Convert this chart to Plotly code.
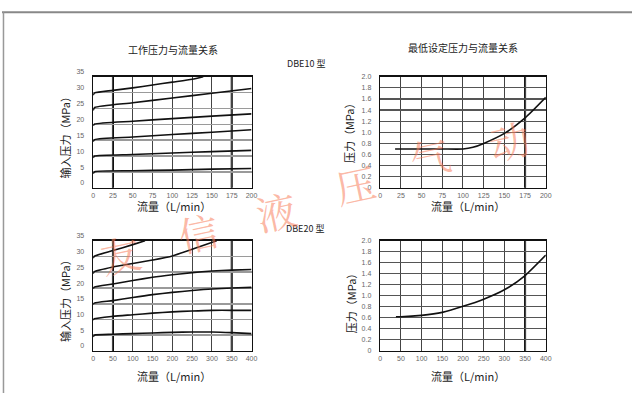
import plotly.graph_objects as go

W, H = 638, 396

# ---------------- data ----------------
# DBE10 working pressure vs flow (top-left)
tl_x_ticks = [0, 25, 50, 75, 100, 125, 150, 175, 200]
tl_y_ticks = [0, 5, 10, 15, 20, 25, 30, 35]
tl_a_x = [0, 2, 25, 50, 75, 100, 125, 139]
tl_a_y = [29.2, 29.9, 30.7, 31.5, 32.4, 33.3, 34.2, 35.0]
tl_b_x = [0, 2, 50, 100, 150, 200]
tl_b_y = [24.4, 25.3, 26.8, 28.3, 29.8, 31.3]
tl_c_x = [0, 2, 50, 100, 150, 200]
tl_c_y = [19.6, 20.1, 21.0, 21.8, 22.6, 23.3]
tl_d_x = [0, 2, 50, 100, 150, 200]
tl_d_y = [14.6, 15.2, 16.0, 16.8, 17.5, 18.3]
tl_e_x = [0, 2, 50, 100, 150, 200]
tl_e_y = [9.5, 10.0, 10.5, 11.0, 11.4, 11.8]
tl_f_x = [0, 2, 50, 100, 150, 200]
tl_f_y = [4.5, 5.1, 5.4, 5.6, 5.9, 6.1]

# DBE10 minimum setting pressure vs flow (top-right)
tr_x_ticks = [0, 25, 50, 75, 100, 125, 150, 175, 200]
tr_y_ticks = [0, 0.2, 0.4, 0.6, 0.8, 1.0, 1.2, 1.4, 1.6, 1.8, 2.0]
tr_y_text = ["0", "0.2", "0.4", "0.6", "0.8", "1.0", "1.2", "1.4", "1.6", "1.8", "2.0"]
tr_x = [18, 50, 75, 100, 112, 125, 150, 175, 200]
tr_y = [0.70, 0.70, 0.70, 0.70, 0.73, 0.80, 0.98, 1.26, 1.63]

# DBE20 working pressure vs flow (bottom-left)
bl_x_ticks = [0, 50, 100, 150, 200, 250, 300, 350, 400]
bl_y_ticks = [0, 5, 10, 15, 20, 25, 30, 35]
bl_a_x = [0, 3, 50, 100, 131]
bl_a_y = [29.5, 30.1, 31.9, 33.8, 35.0]
bl_b_x = [0, 3, 50, 100, 150, 200, 250, 312]
bl_b_y = [24.6, 25.2, 26.7, 27.8, 28.9, 30.2, 32.3, 35.0]
bl_flow = [0, 3, 50, 100, 150, 200, 250, 300, 350, 400]
bl_c_y = [19.8, 20.3, 21.3, 22.4, 23.4, 24.2, 24.9, 25.4, 25.7, 25.9]
bl_d_y = [14.8, 15.2, 16.0, 17.0, 17.9, 18.6, 19.2, 19.7, 20.0, 20.2]
bl_e_y = [9.8, 10.2, 11.0, 11.5, 12.0, 12.4, 12.7, 12.9, 12.9, 12.9]
bl_f_y = [4.5, 5.0, 5.3, 5.5, 5.7, 5.9, 6.0, 6.0, 5.8, 5.5]

# DBE20 minimum setting pressure vs flow (bottom-right)
br_x_ticks = [0, 50, 100, 150, 200, 250, 300, 350, 400]
br_x = [38, 50, 100, 150, 200, 250, 300, 350, 400]
br_y = [0.62, 0.62, 0.645, 0.70, 0.81, 0.94, 1.11, 1.37, 1.74]

# emphasised (heavier) grid lines
tl_emph = [25, 175]
tr_emph = [175]
bl_emph = [50, 350]
br_emph = [350]

# texts
title_left = "工作压力与流量关系"
title_right = "最低设定压力与流量关系"
label_10 = "DBE10 型"
label_20 = "DBE20 型"
x_title = "流量（L/min）"
y_title_left = "输入压力（MPa）"
y_title_right = "压力（MPa）"
watermark = ["友", "信", "液", "压", "气", "动"]

# ---------------- figure ----------------
def px(x):
    return x / W

def py(y):
    return 1 - y / H

fig = go.Figure()

def line(xs, ys, xa, ya, shape="spline"):
    fig.add_trace(go.Scatter(x=xs, y=ys, xaxis=xa, yaxis=ya, mode="lines",
                             line=dict(color="#111", width=1.6, shape=shape, smoothing=0.6),
                             hoverinfo="skip", showlegend=False))

for xs, ys in [(tl_a_x, tl_a_y), (tl_b_x, tl_b_y), (tl_c_x, tl_c_y),
               (tl_d_x, tl_d_y), (tl_e_x, tl_e_y), (tl_f_x, tl_f_y)]:
    line(xs, ys, "x", "y")
line(tr_x, tr_y, "x2", "y2")
for xs, ys in [(bl_a_x, bl_a_y), (bl_b_x, bl_b_y), (bl_flow, bl_c_y),
               (bl_flow, bl_d_y), (bl_flow, bl_e_y), (bl_flow, bl_f_y)]:
    line(xs, ys, "x3", "y3")
line(br_x, br_y, "x4", "y4")

tick_font = dict(family="Liberation Sans Narrow, Liberation Sans, Arial, sans-serif", size=7, color="#666")
axis_common = dict(showline=True, mirror=True, linecolor="#111", linewidth=1.5,
                   zeroline=False, showgrid=True, ticks="", tickfont=tick_font,
                   fixedrange=True)

dom_l = [px(92.3), px(252.7)]
dom_r = [px(383.0), px(550.7)]
dom_top = [py(185), py(70.7)]
dom_bot = [py(352.7), py(239.5)]

fig.update_layout(
    width=W, height=H, margin=dict(l=0, r=0, t=0, b=0),
    paper_bgcolor="white", plot_bgcolor="white", showlegend=False,
    xaxis=dict(axis_common, domain=dom_l, range=[0, 200], tickvals=tl_x_ticks,
               gridcolor="#444", gridwidth=1, anchor="y"),
    yaxis=dict(axis_common, domain=dom_top, range=[0, 35], tickvals=tl_y_ticks,
               gridcolor="#9a9a9a", gridwidth=1.6, anchor="x",
               ticklabelposition="outside top", ticklabelstandoff=6),
    xaxis2=dict(axis_common, domain=dom_r, range=[0, 200], tickvals=tr_x_ticks,
                gridcolor="#444", gridwidth=1, anchor="y2"),
    yaxis2=dict(axis_common, domain=dom_top, range=[0, 2.0], tickvals=tr_y_ticks,
                ticktext=tr_y_text, gridcolor="#555", gridwidth=1.2, anchor="x2",
                ticklabelstandoff=6),
    xaxis3=dict(axis_common, domain=dom_l, range=[0, 400], tickvals=bl_x_ticks,
                gridcolor="#444", gridwidth=1, anchor="y3"),
    yaxis3=dict(axis_common, domain=dom_bot, range=[0, 35], tickvals=bl_y_ticks,
                gridcolor="#9a9a9a", gridwidth=1.6, anchor="x3",
                ticklabelposition="outside top", ticklabelstandoff=6),
    xaxis4=dict(axis_common, domain=dom_r, range=[0, 400], tickvals=br_x_ticks,
                gridcolor="#444", gridwidth=1, anchor="y4"),
    yaxis4=dict(axis_common, domain=dom_bot, range=[0, 2.0], tickvals=tr_y_ticks,
                ticktext=tr_y_text, gridcolor="#555", gridwidth=1.2, anchor="x4",
                ticklabelstandoff=6),
)

shapes = []
for vals, xr, yr in [(tl_emph, "x", "y domain"), (tr_emph, "x2", "y2 domain"),
                     (bl_emph, "x3", "y3 domain"), (br_emph, "x4", "y4 domain")]:
    for v in vals:
        shapes.append(dict(type="line", xref=xr, yref=yr, x0=v, x1=v, y0=0, y1=1,
                           line=dict(color="#000", width=2), layer="below"))
# page frame (top and left edge)
shapes.append(dict(type="line", xref="paper", yref="paper", x0=0, x1=1,
                   y0=py(4.3), y1=py(4.3), line=dict(color="#888", width=2)))
shapes.append(dict(type="line", xref="paper", yref="paper", x0=px(1.5), x1=px(1.5),
                   y0=0, y1=py(4.3), line=dict(color="#999", width=1.5)))
fig.update_layout(shapes=shapes)

cjk = "Noto Sans CJK SC, sans-serif"
ann = []

def text(t, x, y, size, color="#222", angle=0, family=cjk):
    ann.append(dict(text=t, x=px(x), y=py(y), xref="paper", yref="paper",
                    showarrow=False, xanchor="center", yanchor="middle",
                    textangle=angle, font=dict(family=family, size=size, color=color)))

text(title_left, 173, 42.5, 10)
text(title_right, 467, 40.5, 10)
text(label_10, 308, 57, 9)
text(label_20, 307, 227, 9)
text(x_title, 174, 204, 11)
text(x_title, 472, 204, 11)
text(x_title, 174, 378, 11)
text(x_title, 472, 378, 11)
text(y_title_left, 64, 130, 11, angle=-90)
text(y_title_left, 64, 298, 11, angle=-90)
text(y_title_right, 352, 126, 11, angle=-90)
text(y_title_right, 353, 301, 11, angle=-90)

wm_pos = [(120, 252), (198, 230), (277, 208), (357, 180), (433, 152), (513, 135)]
for ch, (wx, wy) in zip(watermark, wm_pos):
    text(ch, wx, wy, 40, color="rgba(248,125,90,0.55)", angle=-12,
         family="Noto Serif CJK SC, Noto Sans CJK SC, serif")

fig.update_layout(annotations=ann)

fig.write_html("out.html", config={"displayModeBar": False, "staticPlot": True},
               post_script="document.body.style.margin='0';document.body.style.overflow='hidden';")
